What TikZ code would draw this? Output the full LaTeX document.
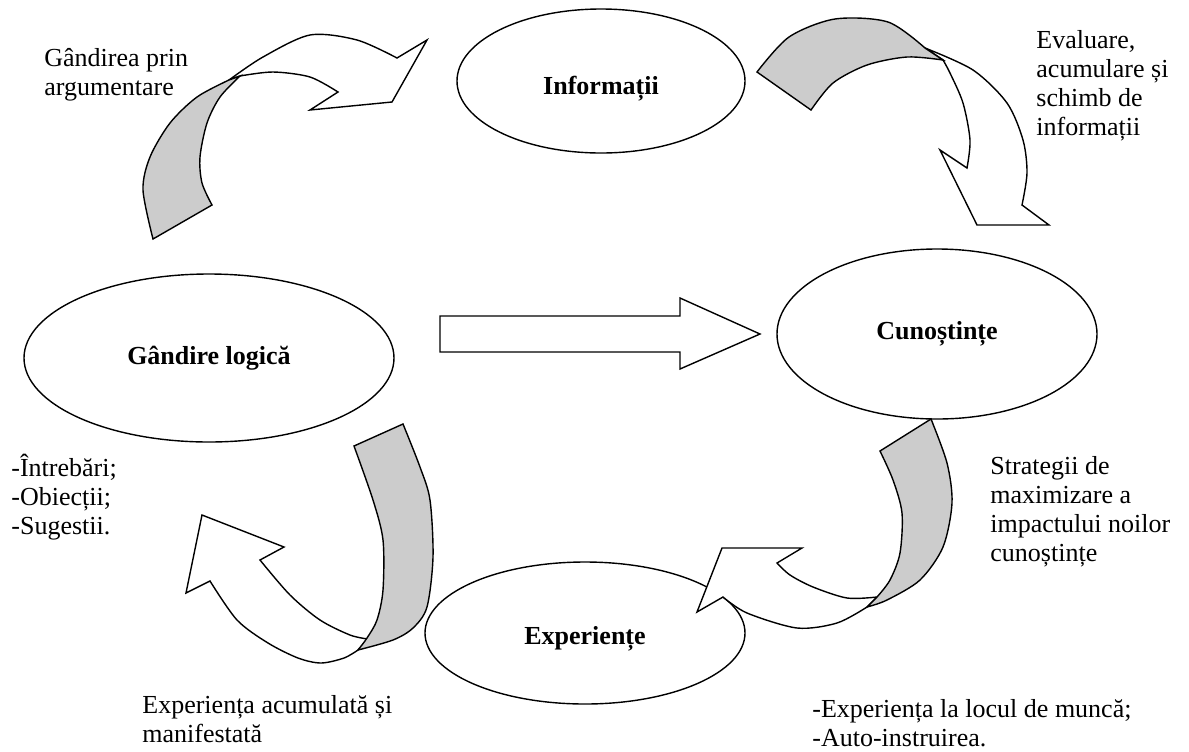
\documentclass[tikz,border=0pt]{standalone}
\usepackage{fontspec}
\setmainfont{Liberation Serif}
\usetikzlibrary{shapes.geometric}
\begin{document}
\begin{tikzpicture}[x=0.5pt,y=-0.5pt,
  txt/.style={font=\fontsize{13}{14.5}\selectfont},
  blob/.style={draw, ellipse, line width=0.7pt, inner sep=0pt,
    font=\fontsize{13}{14.5}\selectfont\bfseries},
  note/.style={txt, anchor=base west, align=left, inner sep=0pt},
  face/.style={draw, line width=0.7pt, fill=white, line join=miter},
  back/.style={draw, line width=0.7pt, fill=gray!40, line join=miter}]
\useasboundingbox (0,0) rectangle (1189,751);

% the four stages
\node[blob, minimum width=144pt, minimum height=72pt, text height=13pt, text depth=0pt]
  (info) at (601,81) {Informații};
\node[blob, minimum width=185pt, minimum height=84pt] (logic) at (209,358) {Gândire logică};
\node[blob, minimum width=160pt, minimum height=85pt] (know) at (937,334) {Cunoștințe};
\node[blob, minimum width=160pt, minimum height=71pt, text height=11pt, text depth=0pt]
  (exp) at (585,633) {Experiențe};

% straight block arrow: logic -> knowledge
\path[face] (440,316) -- (680,316) -- (680,298) -- (760,334) -- (680,369)
  -- (680,352) -- (440,352) -- cycle;

% twisted ribbon arrow: logic -> information
\path[face] plot[smooth] coordinates {(229,80) (263,57) (310,35) (357,40) (397,58)}
  -- (427,40) -- (392,102) -- (310,110) -- (338,92)
  -- plot[smooth] coordinates {(338,92) (310,77) (273,72) (240,76)} -- cycle;
\path[back] plot[smooth] coordinates {(153,239) (143,190) (150,157) (170,123) (197,97) (229,80)}
  -- (240,76)
  -- plot[smooth] coordinates {(240,76) (220,97) (207,123) (200,157) (202,183) (212,205)} -- cycle;

% twisted ribbon arrow: information -> knowledge
\path[face] plot[smooth] coordinates {(925,48) (973,70) (1007,103) (1023,140) (1027,173) (1022,205)}
  -- (1049,225) -- (977,225) -- (940,150) -- (967,168)
  -- plot[smooth] coordinates {(967,168) (970,140) (963,103) (950,73) (943,60)} -- cycle;
\path[back] plot[smooth] coordinates {(757,72) (789,37) (835,19) (888,22) (925,48)}
  -- (943,60)
  -- plot[smooth] coordinates {(943,60) (907,57) (867,65) (833,83) (811,110)} -- cycle;

% twisted ribbon arrow: knowledge -> experience
\path[face] plot[smooth] coordinates {(877,597) (847,598) (813,587) (790,575) (777,563)}
  -- (802,548) -- (722,548) -- (697,612) -- (723,597)
  -- plot[smooth] coordinates {(723,597) (747,613) (797,628) (837,623) (867,607)} -- cycle;
\path[back] (880,451) -- (931,419)
  -- plot[smooth] coordinates {(931,419) (947,463) (952,503) (943,547) (920,580) (887,600) (867,607)}
  -- (877,597)
  -- plot[smooth] coordinates {(877,597) (890,580) (900,553) (902,513) (893,480) (880,451)} -- cycle;

% twisted ribbon arrow: experience -> logic
\path[face] plot[smooth] coordinates {(358,650) (344,658) (321,663) (298,658) (268,643) (237,620) (210,581)}
  -- (186,593) -- (202,515) -- (284,547) -- (260,560)
  -- plot[smooth] coordinates {(260,560) (290,595) (320,620) (350,635) (368,639)} -- cycle;
\path[back] (354,446) -- (403,424)
  -- plot[smooth] coordinates {(403,424) (420,467) (430,500) (433,557) (427,607) (413,628) (393,640) (358,650)}
  -- plot[smooth] coordinates {(358,650) (367,638) (377,620) (383,590) (383,540) (373,500) (354,446)} -- cycle;

% captions (anchored at the baseline of their last line)
\node[note] (c1) at (44,95) {Gândirea prin\\argumentare};
\node[note] (c2) at (1036,135) {Evaluare,\\acumulare și\\schimb de\\informații};
\node[note] (c3) at (11,534) {-Întrebări;\\-Obiecții;\\-Sugestii.};
\node[note] (c4) at (990,561) {Strategii de\\maximizare a\\impactului noilor\\cunoștințe};
\node[note] (c5) at (142,742) {Experiența acumulată și\\manifestată};
\node[note] (c6) at (812,746) {-Experiența la locul de muncă;\\-Auto-instruirea.};
\end{tikzpicture}
\end{document}
